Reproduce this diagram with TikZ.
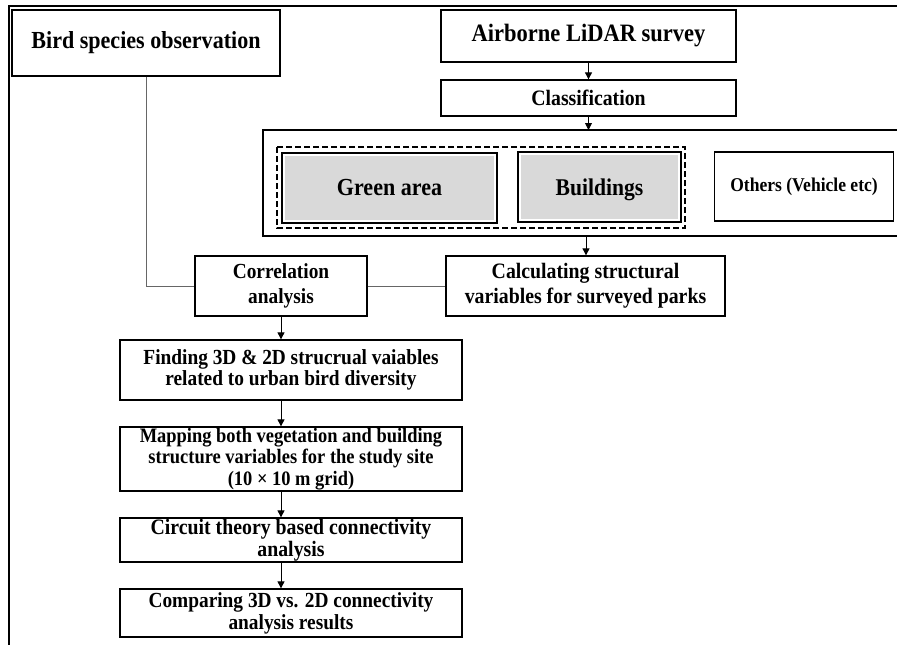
\documentclass[tikz,border=0pt]{standalone}
\usepackage{fontspec}
\setmainfont[FakeStretch=0.9]{Liberation Serif}
\usetikzlibrary{arrows.meta}

\begin{document}
\begin{tikzpicture}[x=1pt,y=-1pt,>={Triangle[length=7pt,width=7pt]},
  box/.style={draw,line width=1.3pt,fill=white,align=center,inner sep=0pt,
    font=\bfseries\fontsize{21.5}{25}\selectfont},
  greybox/.style={box,path picture={\fill[black!15]
    ([shift={(3pt,-3pt)}]path picture bounding box.north west) rectangle
    ([shift={(-3pt,3pt)}]path picture bounding box.south east);}},
  flow/.style={->,line width=0.9pt},
  link/.style={line width=0.8pt,black!60}]

  \useasboundingbox (0,0) rectangle (897,645);
  % frame
  \draw[line width=1.8pt] (9,645) -- (9,6) -- (897,6);

  \node[box,minimum width=268,minimum height=66,font=\bfseries\fontsize{24.5}{26}\selectfont]
    (bird) at (146,43) {Bird species observation};
  \node[box,minimum width=295,minimum height=52,font=\bfseries\fontsize{25}{26}\selectfont]
    (lidar) at (588.5,36) {Airborne LiDAR survey};
  \node[box,minimum width=295,minimum height=36,font=\bfseries\fontsize{22}{24}\selectfont]
    (class) at (588.5,98) {Classification};

  % classified groups
  \draw[line width=1.3pt] (897,130) -- (263,130) -- (263,236) -- (897,236);
  \coordinate (grouptop) at (588.5,130);
  \coordinate (groupbot) at (586,236);
  \draw[line width=1.2pt,dashed,dash pattern=on 6pt off 3pt] (277,147) rectangle (685,228);
  \node[greybox,minimum width=215,minimum height=70,font=\bfseries\fontsize{24.5}{26}\selectfont]
    (green) at (389.5,188) {Green area};
  \node[greybox,minimum width=163,minimum height=70,font=\bfseries\fontsize{24}{26}\selectfont]
    (build) at (599.5,187) {\raisebox{0pt}[\height][0pt]{Buildings}};
  \node[box,minimum width=179,minimum height=69,font=\bfseries\fontsize{19.5}{22}\selectfont]
    (others) at (804,186.5) {\raisebox{-3pt}{Others (Vehicle etc)}};

  \node[box,minimum width=172,minimum height=60] (corr) at (281,286)
    {Correlation\\analysis};
  \node[box,minimum width=279,minimum height=60,font=\bfseries\fontsize{22}{25}\selectfont]
    (calc) at (585.5,286) {Calculating structural\\variables for surveyed parks};

  \node[box,minimum width=342,minimum height=60,font=\bfseries\fontsize{21.5}{21.5}\selectfont]
    (find) at (291,370) {Finding 3D \& 2D strucrual vaiables\\related to urban bird diversity};
  \node[box,minimum width=342,minimum height=64,font=\bfseries\fontsize{20.5}{21.5}\selectfont]
    (map) at (291,459) {Mapping both vegetation and building\\structure variables for the study site\\(10 × 10 m grid)};
  \node[box,minimum width=342,minimum height=44,font=\bfseries\fontsize{22}{22}\selectfont]
    (circ) at (291,540) {Circuit theory based connectivity\\analysis};
  \node[box,minimum width=342,minimum height=48,font=\bfseries\fontsize{21.5}{22}\selectfont]
    (comp) at (291,613) {Comparing 3D vs. 2D connectivity\\analysis results};

  \draw[flow] (lidar) -- (class);
  \draw[flow] (class) -- (grouptop);
  \draw[flow] (groupbot) -- (calc.north -| groupbot);
  \draw[link] (bird.south) |- (corr.west);
  \draw[link] (corr) -- (calc);
  \draw[flow] (corr.south) -- (corr.south |- find.north);
  \draw[flow] (corr.south |- find.south) -- (corr.south |- map.north);
  \draw[flow] (corr.south |- map.south) -- (corr.south |- circ.north);
  \draw[flow] (corr.south |- circ.south) -- (corr.south |- comp.north);
\end{tikzpicture}
\end{document}
